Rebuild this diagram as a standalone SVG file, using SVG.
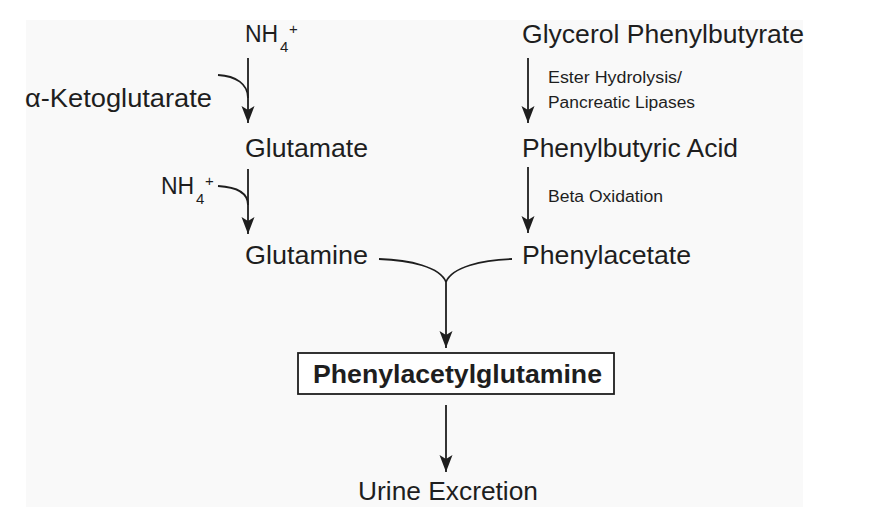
<svg xmlns="http://www.w3.org/2000/svg" width="896" height="507" viewBox="0 0 896 507">
<style>
  text { font-family: "Liberation Sans", Arial, sans-serif; fill: #1e1e1e; }
  .lbl { font-size: 26px; }
  .nh { font-size: 23px; }
  .small { font-size: 16px; }
  .sub { font-size: 15px; }
  .bold { font-size: 26px; font-weight: bold; }
  .ln { fill: none; stroke: #1e1e1e; stroke-width: 1.8; }
</style>
<defs>
  <marker id="ah" markerUnits="userSpaceOnUse" markerWidth="20" markerHeight="20" viewBox="-18 -8 20 16" refX="0" refY="0" orient="auto">
    <path d="M0,0 L-17,-6.5 L-13,0 L-17,6.5 Z" fill="#1e1e1e"/>
  </marker>
</defs>
<rect x="26" y="20" width="777" height="487" fill="#f9f9f9"/>

<g id="nh4-top">
  <text class="nh" x="245" y="42">NH</text>
  <text class="sub" x="280" y="52">4</text>
  <text class="sub" x="289" y="34">+</text>
</g>
<g id="ketoglutarate">
  <text class="lbl" x="25" y="107" textLength="187" lengthAdjust="spacingAndGlyphs">α-Ketoglutarate</text>
</g>
<g id="glutamate">
  <text class="lbl" x="245" y="157" textLength="123" lengthAdjust="spacingAndGlyphs">Glutamate</text>
</g>
<g id="nh4-mid">
  <text class="nh" x="161" y="194">NH</text>
  <text class="sub" x="196" y="204">4</text>
  <text class="sub" x="205" y="186">+</text>
</g>
<g id="glutamine">
  <text class="lbl" x="245" y="264" textLength="123" lengthAdjust="spacingAndGlyphs">Glutamine</text>
</g>
<g id="glycerol-phenylbutyrate">
  <text class="lbl" x="522" y="43" textLength="282" lengthAdjust="spacingAndGlyphs">Glycerol Phenylbutyrate</text>
</g>
<g id="ester-label">
  <text class="small" x="548" y="83" textLength="134" lengthAdjust="spacingAndGlyphs">Ester Hydrolysis/</text>
  <text class="small" x="548" y="108" textLength="147" lengthAdjust="spacingAndGlyphs">Pancreatic Lipases</text>
</g>
<g id="phenylbutyric-acid">
  <text class="lbl" x="522" y="157" textLength="216" lengthAdjust="spacingAndGlyphs">Phenylbutyric Acid</text>
</g>
<g id="beta-label">
  <text class="small" x="548" y="202" textLength="115" lengthAdjust="spacingAndGlyphs">Beta Oxidation</text>
</g>
<g id="phenylacetate">
  <text class="lbl" x="522" y="264" textLength="169" lengthAdjust="spacingAndGlyphs">Phenylacetate</text>
</g>
<g id="phenylacetylglutamine">
  <rect x="298" y="353" width="316" height="41" fill="#ffffff" stroke="#1e1e1e" stroke-width="1.8"/>
  <text class="bold" x="313" y="383" textLength="289" lengthAdjust="spacingAndGlyphs">Phenylacetylglutamine</text>
</g>
<g id="urine-excretion">
  <text class="lbl" x="358" y="500" textLength="180" lengthAdjust="spacingAndGlyphs">Urine Excretion</text>
</g>

<g id="connectors">
  <path class="ln" d="M248,58 L248,123" marker-end="url(#ah)"/>
  <path class="ln" d="M218,75 C236,76 248,84 248,98"/>
  <path class="ln" d="M248,169 L248,234" marker-end="url(#ah)"/>
  <path class="ln" d="M218,186 C236,187 248,193 248,205"/>
  <path class="ln" d="M528,58 L528,123" marker-end="url(#ah)"/>
  <path class="ln" d="M528,167 L528,233" marker-end="url(#ah)"/>
  <path class="ln" d="M379,259 C410,260 440,267 446,282"/>
  <path class="ln" d="M512,259 C482,260 452,267 446,282"/>
  <path class="ln" d="M446,281 L446,348" marker-end="url(#ah)"/>
  <path class="ln" d="M446,405 L446,472" marker-end="url(#ah)"/>
</g>
</svg>
